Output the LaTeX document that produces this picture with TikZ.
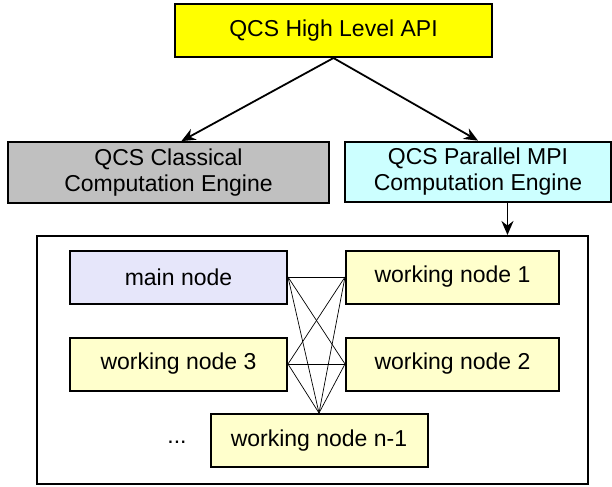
\documentclass[tikz,border=0pt]{standalone}
\usepackage{fontspec}
\setmainfont{Liberation Sans}
\usepackage{xcolor}
\usetikzlibrary{arrows.meta, positioning, calc}
\definecolor{apiyellow}{RGB}{255,255,0}
\definecolor{classicgray}{RGB}{192,192,192}
\definecolor{mpicyan}{RGB}{204,255,255}
\definecolor{mainlilac}{RGB}{230,230,250}
\definecolor{workeryellow}{RGB}{255,255,204}
\tikzset{
	layer/.style={rectangle, draw, line width=1pt, align=center, minimum height=27pt},
	proc/.style={rectangle, draw, line width=1pt, minimum width=108.5pt, minimum height=26.5pt, fill=workeryellow},
	line/.style={draw, line width=0.9pt, -{Stealth[length=7pt, width=6pt]}},
	mesh/.style={draw, line width=0.35pt}
}

\begin{document}
\begin{tikzpicture}[x=0.5pt, y=-0.5pt, font=\fontsize{11.5}{13}\selectfont]
    \useasboundingbox (0,0) rectangle (612,487);
    % Nodes
    \node[layer, fill=apiyellow, minimum width=158.5pt, minimum height=26.5pt] (api) at (333.5,30.5) {QCS High Level API};
    \node[layer, fill=classicgray, minimum width=160.5pt] (classic) at (168.5,172.5) {QCS Classical\\Computation Engine};
    \node[layer, fill=mpicyan, minimum width=133pt] (mpi) at (478,172) {QCS Parallel MPI\\Computation Engine};
    \node[draw, line width=1pt, minimum width=275.5pt, minimum height=124pt] (cluster) at (312.5,360) {};
    \node[proc, fill=mainlilac] (main) at (178.5,277) {main node};
    \node[proc, minimum width=106.5pt, right=28.5pt of main] (wn1) {working node 1};
    \node[proc, below=16pt of main] (wn3) {working node 3};
    \node[proc, minimum width=106.5pt, below=16pt of wn1] (wn2) {working node 2};
    \node[proc] (wnlast) at (319,440.5) {working node n-1};
    \node (dots) at (177,442) {...};
    % Arrows
    \draw[line] (api.south) -- ($(classic.north west)!0.54!(classic.north east)$);
    \draw[line] (api.south) -- (mpi.north);
    \coordinate (mpifoot) at ($(mpi.south west)!0.61!(mpi.south east)$);
    \draw[line] (mpifoot) -- (mpifoot |- cluster.north);
    % Links between the nodes
    \foreach \src/\dst in {main.east/wn1.west, main.east/wn2.west, main.east/wnlast.north,
                           wn3.east/wn1.west, wn3.east/wn2.west, wn3.east/wnlast.north,
                           wn1.west/wnlast.north, wn2.west/wnlast.north}
        \draw[mesh] (\src) -- (\dst);
\end{tikzpicture}
\end{document}
